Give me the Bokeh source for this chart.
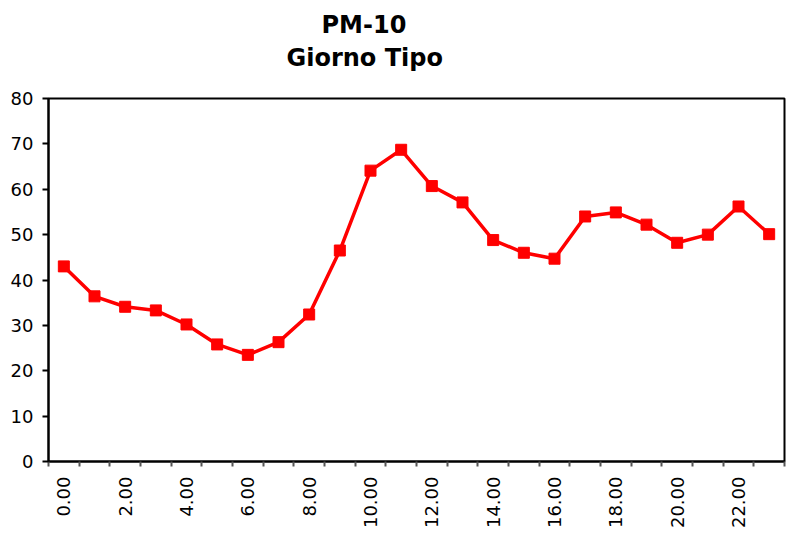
import math
from bokeh.plotting import figure
from bokeh.models import Range1d, FixedTicker, Title
from bokeh.embed import file_html
from bokeh.resources import INLINE

hours = ["0.00", "1.00", "2.00", "3.00", "4.00", "5.00", "6.00", "7.00",
         "8.00", "9.00", "10.00", "11.00", "12.00", "13.00", "14.00", "15.00",
         "16.00", "17.00", "18.00", "19.00", "20.00", "21.00", "22.00", "23.00"]
pm10 = [43.0, 36.4, 34.1, 33.3, 30.2, 25.8, 23.5, 26.3, 32.4, 46.5, 64.1, 68.7,
        60.7, 57.1, 48.8, 46.0, 44.7, 54.0, 54.9, 52.2, 48.2, 50.0, 56.2, 50.1]
tick_labels = [h if i % 2 == 0 else "" for i, h in enumerate(hours)]
y_ticks = [0, 10, 20, 30, 40, 50, 60, 70, 80]

n = len(hours)
xpos = [i + 0.5 for i in range(n)]

p = figure(width=786, height=536, x_range=Range1d(0, n), y_range=Range1d(0, 80),
           output_backend="svg", toolbar_location=None, title=None,
           min_border_left=48, min_border_right=2, min_border_top=98,
           min_border_bottom=75, background_fill_color="white",
           border_fill_color="white")

FONT = "DejaVu Sans"
spacer = Title(text=" ", text_font_size="1px", standoff=24)
t2 = Title(text="Giorno Tipo", align="left", offset=238, text_font=FONT,
           text_font_size="24px", text_font_style="bold", text_color="black",
           standoff=0)
t1 = Title(text="PM-10", align="left", offset=273, text_font=FONT,
           text_font_size="24px", text_font_style="bold", text_color="black",
           standoff=6)
p.add_layout(spacer, "above")
p.add_layout(t2, "above")
p.add_layout(t1, "above")

p.xgrid.visible = False
p.ygrid.visible = False
p.outline_line_color = "black"
p.outline_line_width = 2

xa = p.xaxis[0]
xa.ticker = FixedTicker(ticks=xpos, minor_ticks=list(range(n + 1)))
xa.major_label_overrides = {x: lbl for x, lbl in zip(xpos, tick_labels)}
xa.major_tick_line_color = None
xa.major_tick_out = 5
xa.major_tick_in = 0
xa.minor_tick_line_color = "#555555"
xa.minor_tick_line_width = 2
xa.minor_tick_out = 5
xa.minor_tick_in = 0
xa.major_label_orientation = math.pi / 2
xa.major_label_standoff = 10
xa.major_label_text_font = FONT
xa.major_label_text_font_size = "18px"
xa.major_label_text_color = "black"
xa.axis_line_color = "black"
xa.axis_line_width = 2

ya = p.yaxis[0]
ya.ticker = FixedTicker(ticks=y_ticks)
ya.major_tick_line_color = "black"
ya.major_tick_line_width = 2
ya.major_tick_out = 6
ya.major_tick_in = 0
ya.minor_tick_line_color = None
ya.major_label_standoff = 9
ya.major_label_text_font = FONT
ya.major_label_text_font_size = "18px"
ya.major_label_text_color = "black"
ya.axis_line_color = "black"
ya.axis_line_width = 2

p.line(xpos, pm10, line_color="red", line_width=3.5)
p.scatter(xpos, pm10, marker="square", size=11, fill_color="red", line_color="red")

open("out.html", "w").write(file_html(p, INLINE))
